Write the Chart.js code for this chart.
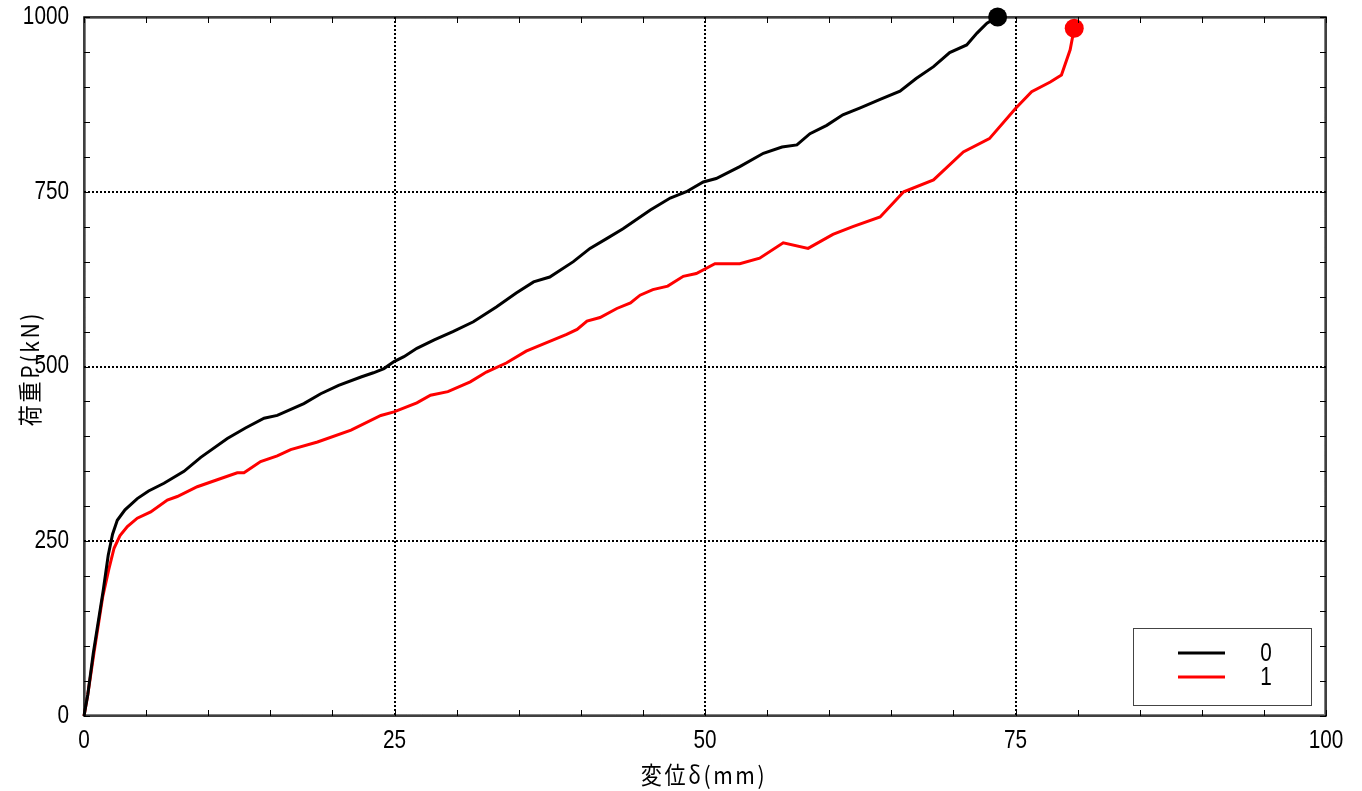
<!DOCTYPE html>
<html>
<head>
<meta charset="utf-8">
<script src="https://cdn.jsdelivr.net/npm/chart.js@4/dist/chart.umd.min.js"></script>
<style>
html,body{margin:0;padding:0;background:#fff;}
#wrap{width:1362px;height:791px;}
</style>
</head>
<body>
<div id="wrap"><canvas id="c" width="1362" height="791"></canvas></div>
<script>
// ---- data ----
const seriesLabels = ['0', '1'];
const xBlack = [0, 0.3, 0.75, 1.55, 1.95, 2.3, 2.68, 3.3, 4.29, 5.2, 6.44, 8.05, 9.4, 11.54, 13.0, 14.5, 15.56, 17.7, 19.06, 20.5, 22.3, 23.3, 24.15, 24.96, 25.76, 26.8, 28.2, 29.7, 31.35, 33.2, 34.8, 36.2, 37.5, 39.4, 40.74, 42.08, 43.4, 45.6, 47.2, 48.5, 49.86, 50.9, 52.8, 54.7, 56.2, 57.4, 58.45, 59.8, 61.1, 62.5, 64.1, 65.7, 67.0, 68.4, 69.7, 71.07, 71.9, 72.7, 73.56];
const yBlack = [0, 30, 90, 180, 230, 260, 280, 295, 311, 322, 333, 350, 370, 397, 412, 426, 430, 447, 461, 473, 485, 491, 497, 507, 514, 526, 538, 550, 564, 585, 605, 621, 628, 650, 669, 683, 697, 724, 741, 750, 764, 769, 786, 805, 814, 817, 833, 845, 860, 870, 882, 894, 912, 929, 949, 960, 977, 991, 1000];
const xRed = [0, 0.3, 0.8, 1.5, 2.0, 2.42, 2.9, 3.49, 4.29, 5.37, 6.71, 7.51, 9.12, 10.73, 12.34, 12.88, 14.22, 15.56, 16.64, 18.8, 21.5, 23.9, 24.96, 26.8, 27.9, 29.3, 31.1, 32.4, 34.0, 35.6, 37.25, 38.86, 39.7, 40.5, 41.55, 42.9, 44.0, 44.77, 45.8, 47.0, 48.25, 49.3, 50.8, 52.8, 54.4, 56.3, 58.3, 60.3, 61.9, 64.1, 66.0, 68.4, 70.8, 72.9, 75.0, 76.3, 77.8, 78.7, 79.4, 79.73];
const yRed = [0, 30, 90, 170, 210, 240, 258, 271, 283, 292, 309, 314, 328, 338, 348, 348, 364, 372, 381, 392, 409, 430, 435, 448, 459, 464, 478, 492, 505, 522, 534, 546, 553, 565, 570, 583, 591, 602, 610, 615, 629, 633, 647, 647, 655, 677, 669, 689, 700, 714, 750, 767, 807, 826, 869, 893, 907, 917, 953, 984];
const xTickStep = 25, yTickStep = 250;
const xMinorStep = 5, yMinorStep = 50;
const xTitle = '変位δ(mm)';
const yTitle = '荷重P(kN)';

const toPts = (xs, ys) => xs.map((x, i) => ({x: x, y: ys[i]}));
const lastBig = (ctx) => ctx.dataIndex === ctx.dataset.data.length - 1 ? 9.5 : 0;

const NUM_FONT = "25px 'Liberation Sans', Arial, sans-serif";
const NUM_SX = 0.83;
const JP_FONT = "24px 'Noto Sans CJK JP', 'Noto Sans', sans-serif";

function narrowText(ctx, text, x, y, align) {
  ctx.save();
  ctx.font = NUM_FONT;
  ctx.textBaseline = 'middle';
  ctx.textAlign = align;
  ctx.translate(x, y);
  ctx.scale(NUM_SX, 1);
  ctx.fillText(text, 0, 0);
  ctx.restore();
}
function spacedText(ctx, text, x, y, rot) {
  ctx.save();
  ctx.font = JP_FONT;
  ctx.textBaseline = 'middle';
  ctx.textAlign = 'center';
  try { ctx.letterSpacing = '3px'; } catch (e) {}
  ctx.translate(x, y);
  if (rot) ctx.rotate(rot);
  ctx.scale(0.88, 1);
  ctx.fillText(text, 0, 0);
  ctx.restore();
}

const framePlugin = {
  id: 'frame',
  beforeDatasetsDraw(chart) {
    const {ctx, chartArea: a, scales: {x, y}} = chart;
    ctx.save();
    ctx.strokeStyle = '#000';
    ctx.lineWidth = 2;
    ctx.setLineDash([2, 2]);
    for (let v = x.min + xTickStep; v < x.max; v += xTickStep) {
      const px = Math.round(x.getPixelForValue(v));
      ctx.beginPath(); ctx.moveTo(px, a.top); ctx.lineTo(px, a.bottom); ctx.stroke();
    }
    for (let v = y.min + yTickStep; v < y.max; v += yTickStep) {
      const py = Math.round(y.getPixelForValue(v));
      ctx.beginPath(); ctx.moveTo(a.left, py); ctx.lineTo(a.right, py); ctx.stroke();
    }
    ctx.restore();
  },
  afterDatasetsDraw(chart) {
    const {ctx, chartArea: a, scales: {x, y}} = chart;
    ctx.save();
    ctx.fillStyle = '#000';
    // tick labels
    x.ticks.forEach(t => narrowText(ctx, String(t.value), x.getPixelForValue(t.value), a.bottom + 25, 'center'));
    y.ticks.forEach(t => narrowText(ctx, String(t.value), a.left - 15, y.getPixelForValue(t.value), 'right'));
    // axis titles
    spacedText(ctx, xTitle, (a.left + a.right) / 2 - 1, a.bottom + 59, 0);
    spacedText(ctx, yTitle, 30, (a.top + a.bottom) / 2 + 2, -Math.PI / 2);

    // minor ticks (inward)
    ctx.strokeStyle = '#000';
    ctx.lineWidth = 1;
    ctx.setLineDash([]);
    const tl = 6;
    for (let v = x.min; v <= x.max; v += xMinorStep) {
      const px = Math.round(x.getPixelForValue(v)) + 0.5;
      ctx.beginPath(); ctx.moveTo(px, a.bottom); ctx.lineTo(px, a.bottom - tl); ctx.stroke();
      ctx.beginPath(); ctx.moveTo(px, a.top); ctx.lineTo(px, a.top + tl); ctx.stroke();
    }
    for (let v = y.min; v <= y.max; v += yMinorStep) {
      const py = Math.round(y.getPixelForValue(v)) + 0.5;
      ctx.beginPath(); ctx.moveTo(a.left, py); ctx.lineTo(a.left + tl, py); ctx.stroke();
      ctx.beginPath(); ctx.moveTo(a.right, py); ctx.lineTo(a.right - tl, py); ctx.stroke();
    }
    // frame: solid + dotted
    ctx.lineWidth = 1.5;
    ctx.strokeRect(a.left, a.top, a.right - a.left, a.bottom - a.top);
    ctx.setLineDash([1, 1]);
    ctx.lineWidth = 1;
    ctx.strokeRect(a.left + 1.5, a.top + 1.5, a.right - a.left - 3, a.bottom - a.top - 3);
    ctx.setLineDash([]);

    // legend
    const bw = 178, bh = 77;
    const bx = a.right - 15 - bw, by = a.bottom - 11 - bh;
    ctx.fillStyle = '#fff';
    ctx.fillRect(bx, by, bw, bh);
    ctx.strokeStyle = '#444';
    ctx.lineWidth = 1;
    ctx.strokeRect(bx + 0.5, by + 0.5, bw, bh);
    chart.data.datasets.forEach((ds, i) => {
      const ly = by + 25 + i * 24;
      ctx.strokeStyle = ds.borderColor;
      ctx.lineWidth = 3;
      ctx.beginPath(); ctx.moveTo(bx + 45, ly); ctx.lineTo(bx + 92, ly); ctx.stroke();
      ctx.fillStyle = '#000';
      narrowText(ctx, ds.label, bx + 133, ly + 1, 'center');
    });
    ctx.restore();
  }
};

new Chart(document.getElementById('c'), {
  type: 'scatter',
  data: {
    datasets: [
      {label: seriesLabels[0], data: toPts(xBlack, yBlack), showLine: true, borderColor: '#000000', backgroundColor: '#000000',
       borderWidth: 3, pointRadius: lastBig, pointHoverRadius: lastBig, pointBorderWidth: 0, tension: 0, clip: false},
      {label: seriesLabels[1], data: toPts(xRed, yRed), showLine: true, borderColor: '#ff0000', backgroundColor: '#ff0000',
       borderWidth: 3, pointRadius: lastBig, pointHoverRadius: lastBig, pointBorderWidth: 0, tension: 0, clip: false}
    ]
  },
  options: {
    responsive: false,
    animation: false,
    events: [],
    layout: {padding: {top: 17, right: 36, left: 0, bottom: 0}},
    plugins: {legend: {display: false}, tooltip: {enabled: false}},
    scales: {
      x: {
        type: 'linear', min: 0, max: 100,
        afterFit(s) { s.height = 75; s.paddingLeft = 0; s.paddingRight = 0; },
        ticks: {stepSize: xTickStep, display: false},
        grid: {display: false, drawTicks: false},
        border: {display: false},
        title: {display: false}
      },
      y: {
        type: 'linear', min: 0, max: 1000,
        afterFit(s) { s.width = 84; s.paddingTop = 0; s.paddingBottom = 0; },
        ticks: {stepSize: yTickStep, display: false},
        grid: {display: false, drawTicks: false},
        border: {display: false},
        title: {display: false}
      }
    }
  },
  plugins: [framePlugin]
});
</script>
</body>
</html>
